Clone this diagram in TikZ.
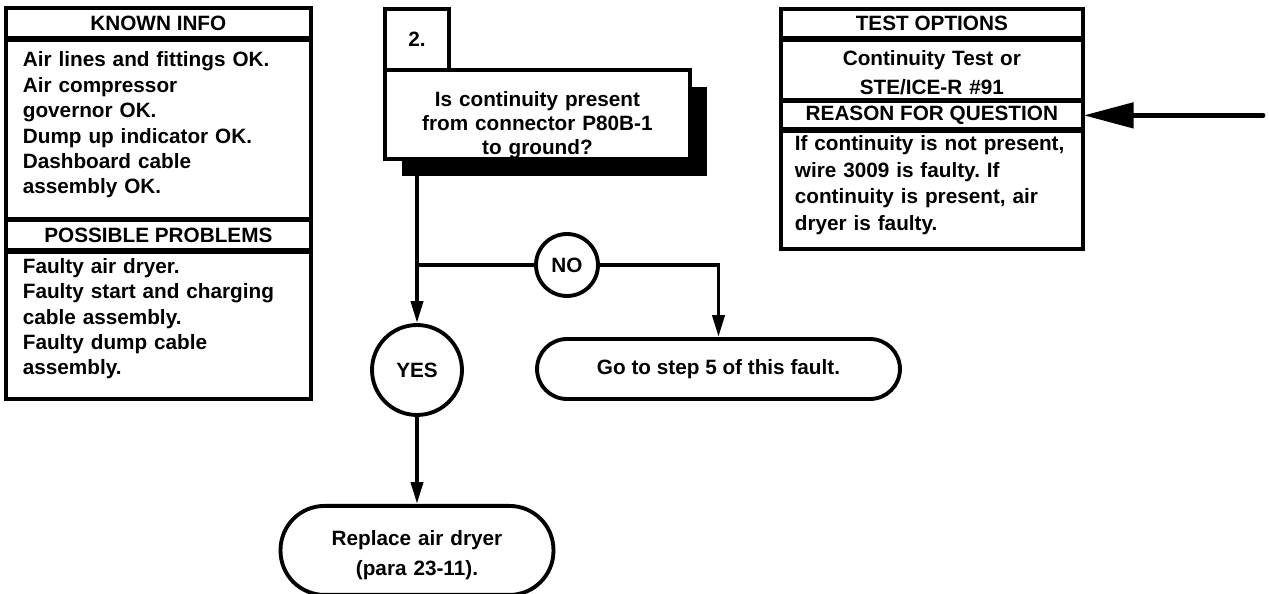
\documentclass[tikz,border=0pt]{standalone}
\usepackage{fontspec}
\setmainfont{Liberation Sans}
\usepackage{tikz}
\usetikzlibrary{positioning, arrows.meta, shadows}
\frenchspacing
\tikzset{
	txt/.style={font=\bfseries\fontsize{11.8}{14.5}\selectfont},
	arrow/.style={line width=2.2pt, -{Triangle[length=0.44cm, width=0.24cm]}},
	bigarrow/.style={line width=2.8pt, line cap=round, -{Triangle[length=1.0cm, width=0.5cm]}}
}

\begin{document}
\begin{tikzpicture}[
		x=0.02cm, y=-0.02cm,
		every node/.style={txt},
		head/.style={
			draw,
			line width=2.2pt,
			outer sep=0.5pt,
			align=center,
			inner sep=0pt,
			minimum height=0.58cm
		},
		leftcol/.style={minimum width=6.1cm},
		rightcol/.style={minimum width=6.04cm},
		list/.style={
			draw,
			line width=2.2pt,
			outer sep=0.5pt,
			align=left,
			inner xsep=0.34cm,
			inner ysep=0pt
		},
		stepbox/.style={
			draw,
			line width=2.2pt,
			fill=white,
			inner sep=0pt
		},
		answer/.style={
			draw,
			circle,
			line width=2.2pt,
			inner sep=0pt
		},
		endbox/.style={
			draw,
			line width=2.2pt,
			align=center,
			inner sep=0pt
		},
		line/.style={line width=2.2pt}
		]
		
		\useasboundingbox (0,0) rectangle (1269,594);
		
		% left column: known info and possible problems
		\node[head, leftcol, minimum height=0.6cm, anchor=north west] (knownhead) at (5,7) {KNOWN INFO};
		\node[list, text width=5.42cm, text height=0.54cm, text depth=3.04cm, below=0pt of knownhead] (knownlist) {Air lines and fittings OK.\\ Air compressor\\ governor OK.\\ Dump up indicator OK.\\ Dashboard cable\\ assembly OK.};
		\node[head, leftcol, minimum height=0.6cm, below=0pt of knownlist] (probhead) {POSSIBLE PROBLEMS};
		\node[list, text width=5.42cm, text height=0.42cm, text depth=2.52cm, below=0pt of probhead] (problist) {Faulty air dryer.\\ Faulty start and charging\\ cable assembly.\\ Faulty dump cable\\ assembly.};
		
		% right column: test options and reason
		\node[head, rightcol, anchor=north west] (testhead) at (780,8) {TEST OPTIONS};
		\node[head, rightcol, text width=5.9cm, text height=0.52cm, text depth=0.68cm, font=\bfseries\fontsize{11.8}{16.4}\selectfont, below=0pt of testhead] (testlist) {Continuity Test or\\ STE/ICE-R \#91};
		\node[head, rightcol, minimum height=0.56cm, below=0pt of testlist] (reasonhead) {REASON FOR QUESTION};
		\node[list, inner xsep=0.28cm, text width=5.48cm, text height=0.38cm, text depth=1.98cm, font=\bfseries\fontsize{11.8}{15.3}\selectfont, below=0pt of reasonhead] (reasonlist) {If continuity is not present,\\ wire 3009 is faulty. If\\ continuity is present, air\\ dryer is faulty.};
		
		% step 2 question with its shadow
		\node[stepbox, minimum width=1.28cm, minimum height=1.22cm, anchor=north west] (stepno) at (383,7) {2.};
		\node[stepbox, align=center, text width=6.1cm, text height=0.74cm, text depth=1.04cm, anchor=north west,
			font=\bfseries\fontsize{11.8}{13.4}\selectfont,
			drop shadow={shadow xshift=0.34cm, shadow yshift=-0.34cm, fill=black, opacity=1}] (question) at (383,68) {Is continuity present\\ from connector P80B-1\\ to ground?};
		
		% answers
		\coordinate (split) at (417,265);
		\node[answer, minimum size=1.24cm] (no) at (567,265) {NO};
		\node[answer, minimum size=1.8cm] (yes) at (417,370) {YES};
		
		\node[endbox, rounded corners=0.6cm, minimum width=7.26cm, minimum height=1.2cm] (go) at (718.5,369) {Go to step 5 of this fault.};
		\node[endbox, rounded corners=0.88cm, text width=5.46cm, text height=0.8cm, text depth=0.98cm, anchor=north,
			font=\bfseries\fontsize{11.8}{17}\selectfont] (replace) at (417,504) {Replace air dryer\\ (para 23-11).};
		
		\draw[line] (question.south -| split) -- (split) -- (no);
		\draw[arrow] (split) -- (yes);
		\draw[arrow] (no) -| (go);
		\draw[arrow] (yes) -- (replace);
		
		\coordinate (pointer) at (1263,0);
		\draw[bigarrow] (reasonhead.east -| pointer) -- (reasonhead.east);
		
	\end{tikzpicture}
\end{document}
